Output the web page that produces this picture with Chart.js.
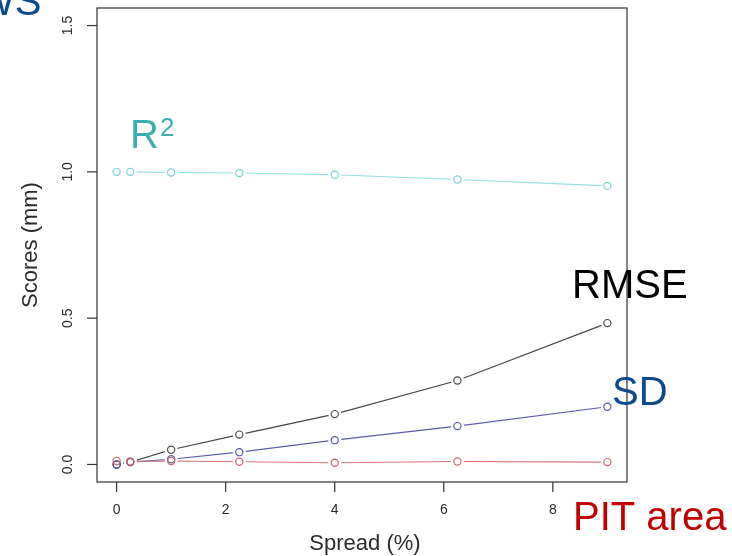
<!DOCTYPE html>
<html><head><meta charset="utf-8">
<style>html,body{margin:0;padding:0;background:#fff;}#wrap{width:732px;height:556px;position:relative;}</style>
<script src="https://cdn.jsdelivr.net/npm/chart.js@4.4.1/dist/chart.umd.min.js"></script>
</head><body><div id="wrap"><canvas id="c" width="732" height="556"></canvas></div>
<script>
const spread = [0, 0.25, 1, 2.25, 4, 6.25, 9];
const r2 = [1.0, 1.0, 0.998, 0.996, 0.99, 0.974, 0.952];
const rmse = [0.0, 0.008, 0.05, 0.102, 0.172, 0.287, 0.483];
const sd = [0.0, 0.008, 0.018, 0.042, 0.083, 0.131, 0.197];
const pit = [0.012, 0.01, 0.012, 0.009, 0.006, 0.01, 0.008];
const xTicks = [0, 2, 4, 6, 8];
const yTicks = [0, 0.5, 1.0, 1.5];
const yTickLabels = ['0.0', '0.5', '1.0', '1.5'];

const series = [
  {name:'R2', vals:r2, line:'#8fe0e0', pt:'#78d2d4'},
  {name:'RMSE', vals:rmse, line:'#454545', pt:'#4a4a4a'},
  {name:'SD', vals:sd, line:'#5c5cae', pt:'#5a5a9e'},
  {name:'PIT', vals:pit, line:'#d37474', pt:'#c96868'}
];
const toPts = v => spread.map((x,i)=>({x:x, y:v[i]}));
const layers = [];
series.forEach(s=>{
  layers.push({data:toPts(s.vals), borderColor:s.line, borderWidth:1.1, pointRadius:0, showLine:true, fill:false, tension:0});
  layers.push({data:toPts(s.vals), showLine:false, pointRadius:6.5, pointBorderWidth:0, pointBackgroundColor:'#fff', pointBorderColor:'#fff'});
});
series.forEach(s=>{
  layers.push({data:toPts(s.vals), showLine:false, pointRadius:3.6, pointBorderWidth:1.2, pointBackgroundColor:'rgba(255,255,255,0)', pointBorderColor:s.pt});
});
// Chart.js paints the first dataset on top, so reverse the painting list
const datasets = layers.slice().reverse();

const deco = {
  id:'deco',
  afterDraw(chart){
    const ctx = chart.ctx, a = chart.chartArea;
    const xs = chart.scales.x, ys = chart.scales.y;
    ctx.save();
    ctx.strokeStyle = '#333'; ctx.lineWidth = 1.2;
    ctx.strokeRect(a.left, a.top, a.right-a.left, a.bottom-a.top);
    ctx.fillStyle = '#2a2a2a';
    ctx.font = '14px "Liberation Sans", Arial, sans-serif';
    ctx.textAlign = 'center'; ctx.textBaseline = 'middle';
    xTicks.forEach(t=>{
      const px = xs.getPixelForValue(t);
      ctx.beginPath(); ctx.moveTo(px, a.bottom); ctx.lineTo(px, a.bottom+10); ctx.stroke();
      ctx.fillText(String(t), px, 510);
    });
    yTicks.forEach((t,i)=>{
      const py = ys.getPixelForValue(t);
      ctx.beginPath(); ctx.moveTo(a.left, py); ctx.lineTo(a.left-10, py); ctx.stroke();
      ctx.save(); ctx.translate(68, py); ctx.rotate(-Math.PI/2);
      ctx.fillText(yTickLabels[i], 0, 0); ctx.restore();
    });
    ctx.font = '22px "Liberation Sans", Arial, sans-serif';
    ctx.fillText('Spread (%)', 365, 544);
    ctx.save(); ctx.translate(31, 245); ctx.rotate(-Math.PI/2);
    ctx.fillText('Scores (mm)', 0, 0); ctx.restore();
    // annotations
    ctx.textAlign = 'left'; ctx.textBaseline = 'alphabetic';
    ctx.font = '40px "Liberation Sans", Arial, sans-serif';
    ctx.fillStyle = '#3aaeb2';
    ctx.fillText('R', 130, 148);
    ctx.font = '26px "Liberation Sans", Arial, sans-serif';
    ctx.fillText('2', 160, 136);
    ctx.font = '40px "Liberation Sans", Arial, sans-serif';
    ctx.fillStyle = '#000';
    ctx.fillText('RMSE', 572, 298);
    ctx.fillStyle = '#0b4a8e';
    ctx.fillText('SD', 612, 405);
    ctx.fillText('WS', -23, 15);
    ctx.font = '40px "Liberation Sans", Arial, sans-serif';
    ctx.fillStyle = '#c00000';
    ctx.fillText('PIT area', 573, 530);
    ctx.restore();
  }
};

new Chart(document.getElementById('c'), {
  type:'scatter',
  data:{datasets},
  options:{
    responsive:false, animation:false, devicePixelRatio:1,
    layout:{padding:{left:97, right:105, top:8, bottom:74}},
    plugins:{legend:{display:false}, tooltip:{enabled:false}},
    scales:{
      x:{type:'linear', min:-0.36, max:9.36, display:false},
      y:{type:'linear', min:-0.06, max:1.56, display:false}
    }
  },
  plugins:[deco]
});
</script></body></html>
